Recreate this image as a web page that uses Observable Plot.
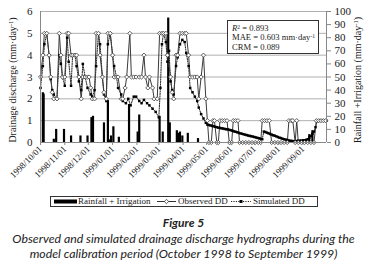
<!DOCTYPE html>
<html><head><meta charset="utf-8">
<script src="https://cdn.jsdelivr.net/npm/d3@7"></script>
<script src="https://cdn.jsdelivr.net/npm/@observablehq/plot@0.6"></script>
<style>
html,body{margin:0;padding:0;background:#fff}
body{width:367px;height:271px;overflow:hidden;position:relative;font-family:"Liberation Serif",serif;color:#1a1a1a}
#chart{position:absolute;left:0;top:0}
.abs{position:absolute;white-space:nowrap}
sup{font-size:0.65em;line-height:0;vertical-align:0.45em}
.rot{transform:translate(-50%,-50%) rotate(-90deg);font-size:10px;line-height:10px}
#stats{left:227px;top:20px;width:92px;height:34px;border:1px solid #333;background:#fff;font-size:8.6px;line-height:9.4px;box-sizing:border-box;padding:3px 0 0 4px}
#legend{left:50px;top:196px;width:268px;height:11px;border:1px solid #333;box-sizing:border-box;font-size:9px;line-height:9px}
#legend span{position:absolute;top:0px}
#legend svg{position:absolute;top:0}
.cap{left:0;width:367px;text-align:center;font-family:Lato,"Open Sans",sans-serif;font-style:italic;color:#222}
</style></head>
<body>
<div id="chart"></div>
<div class="abs rot" style="left:13px;top:80px">Drainage discharge (mm·day<sup>-1</sup>)</div>
<div class="abs rot" style="left:358px;top:80px">Rainfall +Irrigation (mm·day<sup>-1</sup>)</div>
<div id="stats" class="abs"><i>R</i><sup>2</sup> = 0.893<br>MAE = 0.603 mm·day<sup>-1</sup><br>CRM = 0.089</div>
<div id="legend" class="abs">
  <svg width="268" height="10" style="left:0">
    <rect x="3" y="2.5" width="23" height="4" fill="#000"/>
    <line x1="106" y1="4.5" x2="125" y2="4.5" stroke="#333" stroke-width="1"/>
    <path d="M115.5,2.3 L117.7,4.5 L115.5,6.7 L113.3,4.5 Z" fill="#fff" stroke="#333" stroke-width="0.8"/>
    <line x1="180" y1="4.5" x2="200" y2="4.5" stroke="#222" stroke-width="1" stroke-dasharray="1.2,1.2"/>
    <rect x="188.5" y="3" width="3" height="3" fill="#000"/>
  </svg>
  <span style="left:27px">Rainfall + Irrigation</span>
  <span style="left:127px">Observed DD</span>
  <span style="left:202px">Simulated DD</span>
</div>
<div class="abs cap" style="top:215px;font-size:12px;font-weight:bold">Figure 5</div>
<div class="abs cap" style="top:231px;font-size:12.3px">Observed and simulated drainage discharge hydrographs during the</div>
<div class="abs cap" style="top:246px;font-size:12.3px">model calibration period (October 1998 to September 1999)</div>
<script>
// Day offsets from 1998/10/01
const observedDD = [[0,3],[3,4],[5,5],[8,5],[11,4],[13,3],[15,2.3],[17,2],[21,2],[24,5],[26,4],[28,3],[31,3],[34,5],[36,5],[39,4],[41,4],[44,4],[46,4],[49,3],[52,2],[54,3],[57,3],[60,3],[62,3],[64,2.5],[66,2],[69,2],[71,5],[74,5],[76,4],[79,3],[81,2.3],[84,2],[86,5],[89,5],[92,4],[94,3],[97,3],[99,3],[103,2],[105,2],[108,2.5],[110,3],[114,5],[116,3],[119,3],[122,3],[126,3],[129,3],[132,4],[134,3],[137,2.5],[139,3],[143,2.5],[145,2],[149,2],[152,5],[155,5],[157,5],[160,5],[162,4],[166,3],[168,2.3],[170,2],[173,4],[175,4],[178,5],[181,5],[184,5],[186,5],[189,4],[191,3],[194,3],[197,3],[200,3],[202,2],[205,3],[208,4],[211,2],[213,1],[215,0],[218,0],[220,1],[222,1],[225,0],[227,0],[229,1],[232,1],[235,1],[238,1],[241,0],[244,0],[246,1],[249,1],[252,1],[254,0],[258,0],[262,0],[266,0],[270,0],[274,0],[278,0],[281,0],[283,1],[286,1],[289,1],[292,1],[295,0],[299,0],[303,0],[307,0],[311,0],[315,0],[317,1],[320,1],[322,1],[325,0],[327,1],[329,0],[333,0],[337,0],[341,0],[345,0],[349,0],[352,1],[355,1],[358,1],[361,1],[364,1]];
const simulatedDD = [[0,2.5],[3,3.5],[5,4.5],[8,5],[11,4],[13,2.9],[15,2.4],[17,2.2],[21,2.0],[24,4],[26,3.6],[28,3.0],[31,2.6],[34,4.8],[36,3.7],[39,2.6],[41,4],[44,4],[46,3.5],[49,2.8],[52,2.4],[54,3.6],[57,3.0],[60,2.5],[64,2.2],[66,2.1],[69,2.4],[71,3.5],[74,5],[76,4.5],[79,3],[81,2.2],[84,1.9],[86,4.5],[89,5],[92,4],[94,3.5],[97,3.0],[99,2.5],[103,2.2],[105,1.9],[109,1.8],[112,2.0],[115,1.7],[119,2.1],[122,2.1],[126,1.9],[129,1.8],[132,1.95],[136,1.8],[139,1.7],[143,1.55],[147,1.4],[151,1.15],[153,2.5],[155,4.5],[157,5],[160,4.6],[162,3.7],[164,4.2],[166,2.8],[168,2.4],[170,2.2],[173,3.5],[175,3.9],[178,4.5],[181,4.7],[184,4.6],[186,4.1],[189,3.5],[191,2.5],[194,2.3],[197,2.1],[200,1.9],[202,1.6],[205,1.3],[208,1.1],[211,0.9],[213,0.82],[215,0.80],[217,0.78],[219,0.76],[221,0.74],[223,0.72],[225,0.70],[227,0.68],[229,0.67],[231,0.65],[233,0.64],[235,0.62],[237,0.61],[239,0.60],[241,0.58],[243,0.56],[245,0.54],[247,0.51],[249,0.49],[251,0.47],[253,0.44],[255,0.42],[257,0.40],[259,0.38],[261,0.36],[263,0.34],[265,0.32],[267,0.30],[269,0.29],[271,0.27],[273,0.25],[275,0.23],[277,0.21],[279,0.19],[281,0.17],[283,0.15],[285,0.50],[287,0.48],[289,0.45],[291,0.42],[293,0.39],[295,0.36],[297,0.33],[299,0.31],[301,0.28],[303,0.25],[305,0.22],[307,0.20],[309,0.17],[311,0.15],[313,0.13],[315,0.11],[317,0.09],[319,0.08],[321,0.07],[323,0.06],[325,0.06],[327,0.07],[329,0.08],[331,0.08],[333,0.09],[335,0.10],[337,0.10],[339,0.12],[341,0.15],[343,0.22],[345,0.30],[347,0.40],[349,0.50],[351,0.70],[353,0.98],[355,1.0],[357,1.0],[359,1.0],[361,1.0],[363,1.0],[365,1.0]];
const rainIrrigation = [[3,38],[4,37],[17,2.5],[20,10],[30,10],[39,5],[51,5],[60,5],[65,19],[67,20],[81,15],[86,32],[88,2],[90,5],[93,12],[100,4],[113,29],[124,8],[126,21],[152,20],[156,8],[163,95],[165,15],[174,9],[176,7],[178,8],[181,5],[188,7],[201,3],[343,6],[347,9]];
const xTickLabels = ["1998/10/01","1998/11/01","1998/12/01","1999/01/01","1999/02/01","1999/03/01","1999/04/01","1999/05/01","1999/06/01","1999/07/01","1999/08/01","1999/09/01"];
const leftTicks = [0,1,2,3,4,5,6];
const rightTicks = [0,10,20,30,40,50,60,70,80,90,100];

const parse = d3.utcParse("%Y/%m/%d");
const start = parse("1998/10/01"), end = parse("1999/10/01");
const toRows = arr => arr.map(([d, v]) => ({date: d3.utcDay.offset(start, d), v}));
const obs = toRows(observedDD), sim = toRows(simulatedDD), rain = toRows(rainIrrigation);
const R = 6 / 100; // right-axis (0-100) to left-axis (0-6)

const chart = Plot.plot({
  width: 367, height: 190,
  marginLeft: 40, marginRight: 41, marginTop: 11, marginBottom: 48,
  style: {fontFamily: '"Liberation Serif", serif', fontSize: "11px", color: "#1a1a1a", background: "transparent", overflow: "visible"},
  x: {type: "utc", domain: [start, end]},
  y: {domain: [0, 6]},
  marks: [
    Plot.ruleY(leftTicks.slice(1), {stroke: "#b0b0b0", strokeWidth: 1}),
    Plot.ruleX(rain, {x: "date", y1: 0, y2: d => d.v * R, stroke: "#000", strokeWidth: 2.2}),
    Plot.line(sim, {x: "date", y: "v", stroke: "#222", strokeWidth: 1, strokeDasharray: "1.2,1.2"}),
    Plot.line(obs, {x: "date", y: "v", stroke: "#3a3a3a", strokeWidth: 1}),
    Plot.dot(sim, {x: "date", y: "v", symbol: "square", r: 1.4, fill: "#000"}),
    Plot.dot(obs, {x: "date", y: "v", symbol: "diamond2", r: 1.9, fill: "#fff", stroke: "#3a3a3a", strokeWidth: 0.8}),
    Plot.ruleX([start, end], {stroke: "#888"}),
    Plot.ruleY([0], {stroke: "#888"}),
    Plot.axisY({ticks: leftTicks, tickFormat: d => String(d), tickSize: 0, tickPadding: 8, label: null, fontSize: 11}),
    Plot.axisY({anchor: "right", ticks: rightTicks.map(v => v * R), tickFormat: d => String(Math.round(d / R)), tickSize: 4, tickPadding: 4, label: null, fontSize: 11, stroke: "#888"}),
    Plot.axisX({ticks: xTickLabels.map(parse), tickFormat: d3.utcFormat("%Y/%m/%d"), tickRotate: -45, tickSize: 3, tickPadding: 2, label: null, fontSize: 9, stroke: "#888"})
  ]
});
document.getElementById("chart").appendChild(chart);
</script>
</body></html>
